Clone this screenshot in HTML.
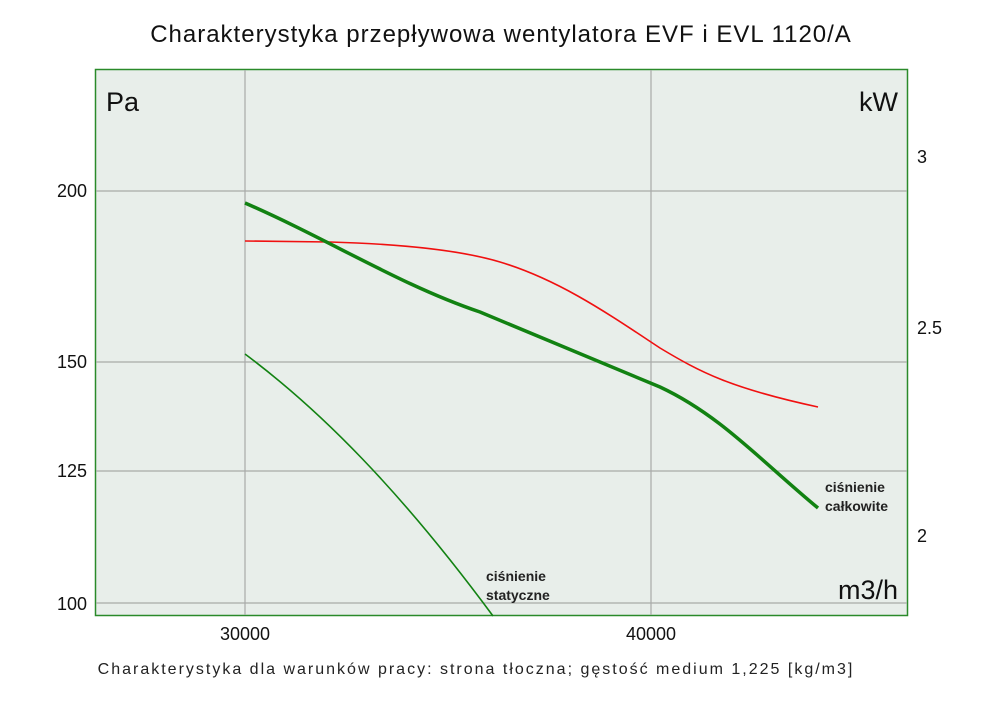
<!DOCTYPE html>
<html><head><meta charset="utf-8"><style>body{margin:0;background:#fff}</style></head><body>
<svg width="1000" height="706" xmlns="http://www.w3.org/2000/svg" font-family="Liberation Sans, DejaVu Sans, sans-serif">
<rect width="1000" height="706" fill="#fff"/>
<text x="501" y="42" text-anchor="middle" font-size="24" fill="#111" letter-spacing="1">Charakterystyka przepływowa wentylatora EVF i EVL 1120/A</text>
<rect x="95.5" y="69.5" width="812" height="546" fill="#e8eeea" stroke="#2a8a2a" stroke-width="1.5"/>
<g stroke="#a8aaa8" stroke-width="1.2">
<line x1="245" y1="70" x2="245" y2="615"/><line x1="651" y1="70" x2="651" y2="615"/>
<line x1="96" y1="191" x2="907" y2="191"/><line x1="96" y1="362" x2="907" y2="362"/>
<line x1="96" y1="471" x2="907" y2="471"/><line x1="96" y1="603" x2="907" y2="603"/>
</g>
<g font-size="18" fill="#111">
<text x="87" y="197" text-anchor="end">200</text><text x="87" y="368" text-anchor="end">150</text>
<text x="87" y="477" text-anchor="end">125</text><text x="87" y="610" text-anchor="end">100</text>
<text x="917" y="163">3</text><text x="917" y="334">2.5</text><text x="917" y="542">2</text>
<text x="245" y="640" text-anchor="middle">30000</text><text x="651" y="640" text-anchor="middle">40000</text>
</g>
<text x="106" y="111" font-size="27" fill="#111">Pa</text>
<text x="898" y="111" font-size="27" fill="#111" text-anchor="end">kW</text>
<text x="898" y="599" font-size="27" fill="#111" text-anchor="end">m3/h</text>
<path d="M245 241 L330 242 C400 244 460 250 500 262 C560 280 610 315 660 348 C700 372 730 388 818 407" fill="none" stroke="#f01010" stroke-width="1.6"/>
<path d="M245 203 C330 240 400 285 480 312 C560 345 620 370 660 387 C720 415 760 460 818 508" fill="none" stroke="#128212" stroke-width="3.5"/>
<path d="M245 354 C320 410 400 490 493 616" fill="none" stroke="#128212" stroke-width="1.6"/>
<g font-size="14" font-weight="bold" fill="#222">
<text x="825" y="492">ciśnienie</text><text x="825" y="511">całkowite</text>
<text x="486" y="581">ciśnienie</text><text x="486" y="600">statyczne</text>
</g>
<text x="476" y="674" text-anchor="middle" font-size="16" fill="#222" letter-spacing="2">Charakterystyka dla warunków pracy: strona tłoczna; gęstość medium 1,225 [kg/m3]</text>
</svg>
</body></html>
